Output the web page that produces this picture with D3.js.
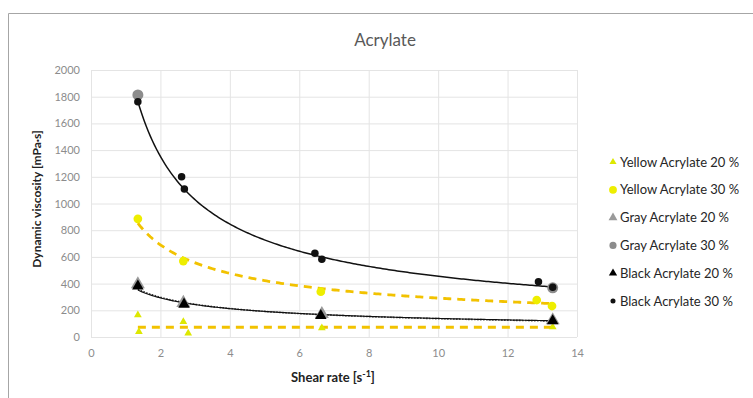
<!DOCTYPE html>
<html><head><meta charset="utf-8">
<script src="https://cdn.jsdelivr.net/npm/d3@7"></script>
<style>body{margin:0;background:#fff}svg{display:block;font-family:Lato,"Open Sans",sans-serif}</style>
</head><body><svg id="c" width="753" height="398"></svg>
<script>
const xTicks = [0, 2, 4, 6, 8, 10, 12, 14];
const yTicks = [0, 200, 400, 600, 800, 1000, 1200, 1400, 1600, 1800, 2000];

const yellow20X = [1.35, 1.38, 2.66, 2.8, 6.65, 13.3];
const yellow20Y = [165, 40, 115, 28, 67, 75];
const yellow30X = [1.35, 2.66, 6.62, 12.84, 13.28];
const yellow30Y = [885, 569, 339, 277, 232];
const gray20X = [1.35, 2.66, 6.65, 13.3];
const gray20Y = [395, 255, 172, 125];
const gray30X = [1.35, 13.3];
const gray30Y = [1813, 368];
const black20X = [1.35, 2.68, 6.62, 13.3];
const black20Y = [380, 245, 160, 120];
const black30X = [1.35, 2.61, 2.69, 6.45, 6.65, 12.89, 13.3];
const black30Y = [1763, 1200, 1109, 627, 582, 414, 372];

// power trendlines y = a * x^b
const trendNames = ["yellow20", "yellow30", "gray20", "black20", "black30"];
const trendA = [73, 1001, 415, 404, 2162];
const trendB = [0, -0.536, -0.48, -0.463, -0.677];
const trendX0 = [1.35, 1.35, 1.35, 1.35, 1.35];
const trendX1 = [13.3, 13.3, 13.3, 13.3, 13.3];

const legendLabels = ["Yellow Acrylate 20 %", "Yellow Acrylate 30 %", "Gray Acrylate 20 %", "Gray Acrylate 30 %", "Black Acrylate 20 %", "Black Acrylate 30 %"];

const svg = d3.select("#c");
const L = 91, R = 577, T = 70, B = 337;
const x = d3.scaleLinear().domain([0, 14]).range([L, R]);
const y = d3.scaleLinear().domain([0, 2000]).range([B, T]);

svg.append("path").attr("d", "M8.5,398 V13.5 H753").attr("fill", "none").attr("stroke", "#a6a6a6").attr("stroke-width", 1);

svg.append("g").selectAll("line").data(yTicks).join("line")
  .attr("x1", L).attr("x2", R).attr("y1", d => y(d) + 0.5).attr("y2", d => y(d) + 0.5)
  .attr("stroke", "#e4e4e4").attr("stroke-width", 1);
svg.append("g").selectAll("line").data(xTicks).join("line")
  .attr("y1", T).attr("y2", B).attr("x1", d => x(d) + 0.5).attr("x2", d => x(d) + 0.5)
  .attr("stroke", "#e4e4e4").attr("stroke-width", 1);

const xa = svg.append("g").attr("transform", `translate(0,${B})`)
  .call(d3.axisBottom(x).tickValues(xTicks).tickFormat(d3.format("d")).tickSize(0).tickPadding(12));
xa.select(".domain").remove();
xa.selectAll("text").attr("fill", "#8c8c8c").style("font-size", "11px").style("font-family", "Lato, sans-serif");
const ya = svg.append("g").attr("transform", `translate(${L - 11},0)`)
  .call(d3.axisLeft(y).tickValues(yTicks).tickFormat(d3.format("d")).tickSize(0).tickPadding(0));
ya.select(".domain").remove();
ya.selectAll("text").attr("fill", "#8c8c8c").style("font-size", "11px").style("font-family", "Lato, sans-serif");

svg.append("text").attr("x", 385).attr("y", 46).attr("text-anchor", "middle")
  .attr("fill", "#595959").style("font-size", "17px").text("Acrylate");
svg.append("text").attr("transform", "translate(41,199) rotate(-90)").attr("text-anchor", "middle")
  .attr("fill", "#222").style("font-size", "12px").style("font-weight", "bold").text("Dynamic viscosity [mPa·s]");
const xt = svg.append("text").attr("x", 333).attr("y", 382).attr("text-anchor", "middle")
  .attr("fill", "#222").style("font-size", "13px").style("font-weight", "bold");
xt.append("tspan").text("Shear rate [s");
xt.append("tspan").attr("dy", -5).style("font-size", "9px").text("-1");
xt.append("tspan").attr("dy", 5).text("]");

const trendStyle = {
  yellow20: {stroke: "#f2c200", w: 2.8, dash: "8,6"},
  yellow30: {stroke: "#f2c200", w: 2.8, dash: "8,6"},
  gray20: {stroke: "#444", w: 1.6, dash: "1.5,1.5"},
  black20: {stroke: "#111", w: 1.2, dash: null},
  black30: {stroke: "#111", w: 1.5, dash: null}
};
const line = d3.line().x(d => x(d[0])).y(d => y(d[1]));
trendNames.forEach((n, i) => {
  const pts = d3.range(0, 201).map(k => {
    const xv = trendX0[i] + (trendX1[i] - trendX0[i]) * k / 200;
    return [xv, trendA[i] * Math.pow(xv, trendB[i])];
  });
  const st = trendStyle[n];
  svg.append("path").attr("d", line(pts)).attr("fill", "none")
    .attr("stroke", st.stroke).attr("stroke-width", st.w)
    .attr("stroke-dasharray", st.dash);
});

const series = [
  {xs: yellow20X, ys: yellow20Y, sym: d3.symbolTriangle, size: 26, fill: "#dde800"},
  {xs: yellow30X, ys: yellow30Y, sym: d3.symbolCircle, size: 60, fill: "#eeee00"},
  {xs: gray20X, ys: gray20Y, sym: d3.symbolTriangle, size: 85, fill: "#9a9a9a"},
  {xs: gray30X, ys: gray30Y, sym: d3.symbolCircle, size: 95, fill: "#8c8c8c"},
  {xs: black20X, ys: black20Y, sym: d3.symbolTriangle, size: 58, fill: "#000"},
  {xs: black30X, ys: black30Y, sym: d3.symbolCircle, size: 44, fill: "#111"}
];
series.forEach(s => {
  svg.append("g").selectAll("path").data(s.xs.map((v, i) => [v, s.ys[i]])).join("path")
    .attr("transform", d => `translate(${x(d[0])},${y(d[1])})`)
    .attr("d", d3.symbol().type(s.sym).size(s.size)).attr("fill", s.fill);
});

const lg = svg.append("g");
const legendSizes = [22, 48, 34, 40, 30, 20];
legendLabels.forEach((t, i) => {
  const yy = 162 + i * 27.8;
  lg.append("path").attr("transform", `translate(613,${yy})`)
    .attr("d", d3.symbol().type(series[i].sym).size(legendSizes[i])).attr("fill", series[i].fill);
  lg.append("text").attr("x", 620).attr("y", yy + 4.5).attr("fill", "#262626")
    .style("font-size", "13px").text(t);
});
</script></body></html>
